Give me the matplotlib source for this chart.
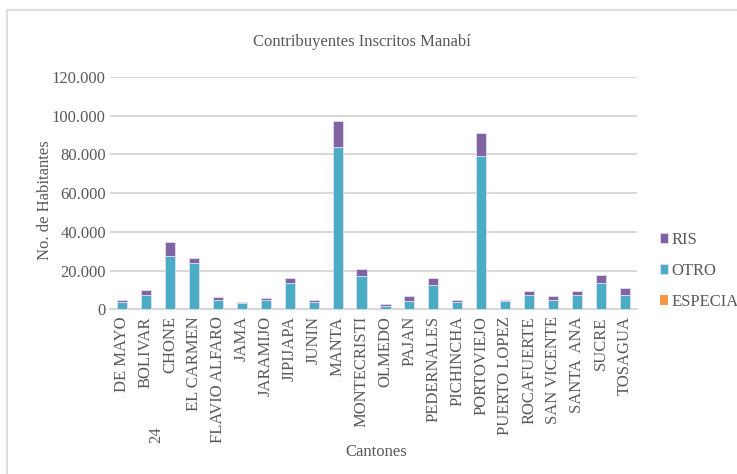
import matplotlib.pyplot as plt
from matplotlib.patches import Rectangle
import numpy as np

plt.rcParams['font.family'] = ['Liberation Serif', 'DejaVu Serif']

# datos por cantón
cantones = ["DE MAYO", "BOLIVAR", "CHONE", "EL CARMEN", "FLAVIO ALFARO", "JAMA",
            "JARAMIJO", "JIPIJAPA", "JUNIN", "MANTA", "MONTECRISTI", "OLMEDO",
            "PAJAN", "PEDERNALES", "PICHINCHA", "PORTOVIEJO", "PUERTO LOPEZ",
            "ROCAFUERTE", "SAN VICENTE", "SANTA  ANA", "SUCRE", "TOSAGUA"]
especial = [10, 20, 60, 50, 10, 10, 10, 40, 10, 250, 40, 5,
            10, 30, 10, 300, 10, 20, 20, 20, 30, 20]
otro = [3900, 7500, 27500, 23800, 4600, 3100, 5000, 13700, 3900, 83800, 17300, 1700,
        4100, 12500, 3900, 79000, 4400, 7200, 5000, 7200, 13800, 7600]
ris = [1100, 2400, 7000, 2500, 1700, 700, 800, 2500, 1100, 13000, 3400, 1000,
       2600, 3400, 1100, 11600, 600, 2000, 1700, 2000, 3900, 3400]

c_ris = '#8064A2'
c_otro = '#4BACC6'
c_esp = '#F79646'
gris = '#595959'

fig = plt.figure(figsize=(7.37, 4.74), dpi=100)
ax = fig.add_axes([110/737, 1 - 309.3/474, 527/737, 232.3/474])

x = np.arange(len(cantones))
w = 0.42
esp = np.array(especial)
ot = np.array(otro)
ax.bar(x, esp, w, color=c_esp, label='ESPECIAL', zorder=3)
ax.bar(x, ot, w, bottom=esp, color=c_otro, label='OTRO', zorder=3,
       edgecolor='#E4DDF0', linewidth=0.6)
ax.bar(x, ris, w, bottom=esp + ot, color=c_ris, label='RIS', zorder=3,
       edgecolor='#E4DDF0', linewidth=0.6)

ax.set_xlim(-0.5, len(cantones) - 0.5)
ax.set_ylim(0, 120000)
yt = np.arange(0, 120001, 20000)
ax.set_yticks(yt)
ax.set_yticklabels(['0' if v == 0 else f'{v // 1000}.000' for v in yt])
ax.set_xticks(x)
ax.set_xticklabels(cantones, rotation=90)
ax.tick_params(length=0, labelsize=12, labelcolor=gris)
ax.tick_params(axis='y', pad=3)
ax.tick_params(axis='x', pad=5)

ax.grid(axis='y', color='#D9D9D9', linewidth=1.5, zorder=0)
for s in ['top', 'right', 'left']:
    ax.spines[s].set_visible(False)
ax.spines['bottom'].set_color('#D9D9D9')
ax.spines['bottom'].set_linewidth(1.5)

# segunda línea de la etiqueta "24 DE MAYO"
ax.text(1.42, -0.541, '24', rotation=90, ha='center', va='center',
        fontsize=12, color=gris, transform=ax.get_xaxis_transform())

fig.text(362/737, 1 - 42/474, 'Contribuyentes Inscritos Manabí',
         ha='center', va='center', fontsize=12, color=gris)
fig.text(45/737, 1 - 200/474, 'No. de Habitantes', rotation=90,
         ha='center', va='center', fontsize=12, color=gris)
fig.text(376/737, 1 - 452/474, 'Cantones', ha='center', va='center',
         fontsize=12, color=gris)

h, l = ax.get_legend_handles_labels()
leg = fig.legend(h[::-1], l[::-1], loc='upper left',
                 bbox_to_anchor=(660/737, 1 - 232/474), frameon=False,
                 fontsize=12, labelcolor=gris, handlelength=0.5,
                 handleheight=0.5, handletextpad=0.2, labelspacing=0.9,
                 borderpad=0, borderaxespad=0)

# marco del gráfico
fig.add_artist(Rectangle((7/737, -0.1), 1.2, 1.1 - 10/474, transform=fig.transFigure,
                         fill=False, edgecolor='#D9D9D9', linewidth=1.2))

fig.savefig('out.png', dpi=100)
